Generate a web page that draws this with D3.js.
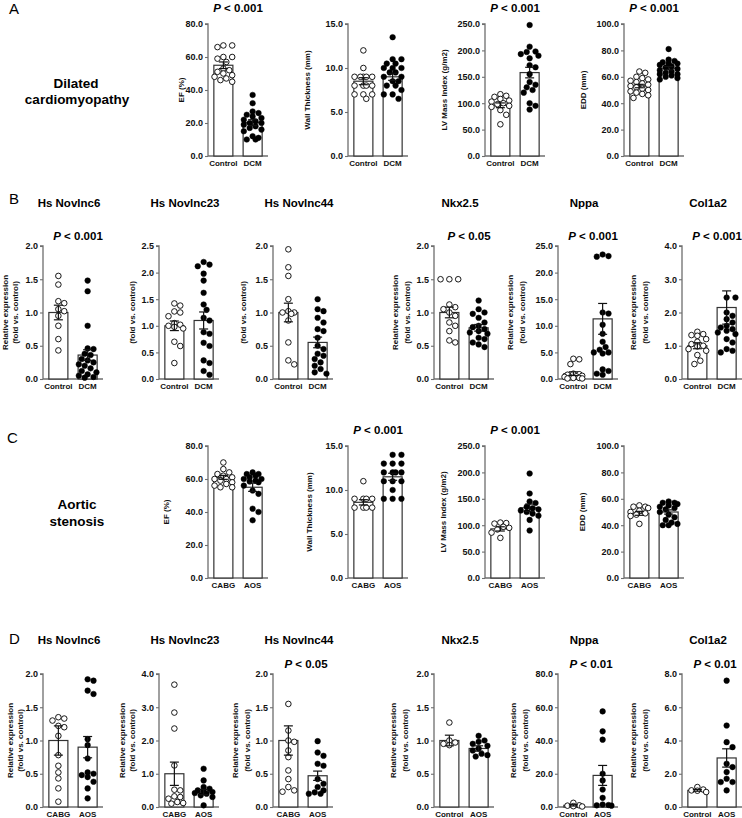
<!DOCTYPE html>
<html><head><meta charset="utf-8">
<script src="https://cdn.jsdelivr.net/npm/d3@7"></script>
<style>
body{margin:0;background:#fff}
svg{display:block}
text{font-family:"Liberation Sans",Arial,Helvetica,sans-serif}
</style>
</head><body>
<svg id="fig" width="742" height="818"></svg>
<script>
// ---------- categories & labels ----------
const groupsDCM = ["Control", "DCM"];
const groupsAS = ["CABG", "AOS"];
const groupsASc = ["Control", "AOS"];
const echoLabels = ["EF (%)", "Wall Thickness (mm)", "LV Mass Index (g/m2)", "EDD (mm)"];
const echoMax = [80, 15, 250, 100];
const echoStep = [20, 5, 50, 20];
const geneTitles = ["Hs Novlnc6", "Hs Novlnc23", "Hs Novlnc44", "Nkx2.5", "Nppa", "Col1a2"];
const geneMaxB = [2, 2.5, 2, 2, 25, 4];
const geneStepB = [0.5, 0.5, 0.5, 0.5, 5, 1];
const geneMaxD = [2, 4, 2, 2, 80, 8];
const geneStepD = [0.5, 1, 0.5, 0.5, 20, 2];
const pRowA = ["< 0.001", null, "< 0.001", "< 0.001"];
const pRowB = ["< 0.001", null, null, "< 0.05", "< 0.001", "< 0.001"];
const pRowC = [null, "< 0.001", "< 0.001", null];
const pRowD = [null, null, "< 0.05", null, "< 0.01", "< 0.01"];

// ---------- Row A: dilated cardiomyopathy (echo) ----------
const efCtrlA = [67,66,67,60,59,60,57,53,52,51,50,49,48,47,46,45];
const efDcmA = [37,32,27,26,25,24,23,22,21,20,20,19,18,17,16,15,12,11,10,10];
const wtCtrlA = [12,10,9,9,9,9,9,8,8,8,8,7,7,7,6.5];
const wtDcmA = [13.5,11,11,10.5,10.5,10,10,10,9.5,9.5,9,9,8.5,8.5,8,8,7.5,7,7,6.5];
const lvCtrlA = [117,114,112,108,105,103,100,98,95,93,87,78,60];
const lvDcmA = [248,207,198,197,193,190,185,172,168,155,140,135,130,125,120,100,95,88];
const eddCtrlA = [64,63,60,59,58,57,56,55,54,53,52,51,50,49,48,47,46,44];
const eddDcmA = [81,73,72,71,70,70,69,68,67,66,65,64,63,62,62,61,60,59,58];
const meanA = [[55, 20.2], [8.5, 9.0], [96, 158], [53, 66.5]];
const semA = [[2, 1.8], [0.4, 0.4], [4.5, 10], [1.3, 1.3]];

// ---------- Row B: DCM gene expression ----------
const n6CtrlB = [1.55,1.42,1.17,1.14,1.05,1.02,0.95,0.80,0.60,0.43];
const n6DcmB = [1.48,1.32,0.80,0.46,0.45,0.38,0.36,0.30,0.28,0.25,0.22,0.20,0.16,0.12,0.10,0.07,0.05,0.03,0.02];
const n23CtrlB = [1.42,1.38,1.27,1.25,1.18,1.05,1.02,1.0,0.98,0.95,0.70,0.62,0.30];
const n23DcmB = [2.2,2.15,2.12,1.98,1.85,1.62,1.4,1.3,1.15,1.1,0.88,0.85,0.68,0.62,0.35,0.3,0.15,0.08];
const n44CtrlB = [1.95,1.68,1.55,1.20,1.02,1.00,1.00,0.98,0.88,0.55,0.28,0.22];
const n44DcmB = [1.2,1.05,1.02,0.92,0.85,0.75,0.72,0.62,0.5,0.45,0.38,0.35,0.3,0.25,0.2,0.15,0.1,0.08];
const nkxCtrlB = [1.5,1.5,1.5,1.12,1.08,1.05,1.0,0.95,0.85,0.80,0.72,0.58,0.55];
const nkxDcmB = [1.18,1.05,1.0,0.98,0.92,0.85,0.80,0.78,0.75,0.72,0.70,0.68,0.62,0.60,0.55,0.52,0.48];
const nppaCtrlB = [3.8,3.7,2.8,1.0,0.9,0.8,0.6,0.5,0.4,0.3,0.2,0.2,0.1,0.1];
const nppaDcmB = [23.4,23.0,23.1,12.5,12.3,10.2,8.5,7.0,6.0,5.5,5.0,5.0,4.8,1.8,1.5,1.0,0.8];
const colCtrlB = [1.42,1.35,1.32,1.3,1.2,1.12,1.05,1.0,0.98,0.9,0.85,0.72,0.55,0.45];
const colDcmB = [2.45,2.45,2.0,1.9,1.8,1.7,1.6,1.55,1.5,1.45,1.4,1.35,1.2,1.1,0.9,0.85,0.8];
const meanB = [[1.0, 0.36], [1.0, 1.1], [1.0, 0.55], [1.0, 0.77], [1.0, 11.3], [1.0, 2.15]];
const semB = [[0.11, 0.08], [0.09, 0.16], [0.14, 0.08], [0.08, 0.05], [0.35, 2.9], [0.09, 0.5]];

// ---------- Row C: aortic stenosis (echo) ----------
const efCabgC = [70,66,64,63,62,61,60,60,59,58,57,56,55,55];
const efAosC = [64,63,63,62,61,60,60,59,58.5,58,56,53,51,42,40,35];
const wtCabgC = [11,9,9,9,9,8,8,8,8];
const wtAosC = [14,14,13,13,13,12,12,12,12,11,11,11,10,9,9,9];
const lvCabgC = [105,104,103,97,95,92,86,76];
const lvAosC = [198,160,145,142,135,132,130,128,125,122,118,110,90];
const eddCabgC = [55,54,54,53,51,50,49,48,47,41];
const eddAosC = [58,57,57,56,55,54,53,52,50,48,46,44,42,41,40,40];
const meanC = [[61, 55], [8.6, 11.5], [93, 133], [49, 50]];
const semC = [[1.2, 2.5], [0.3, 0.4], [4, 7], [1.5, 1.6]];

// ---------- Row D: aortic stenosis gene expression ----------
const n6CabgD = [1.35,1.33,1.30,1.22,1.20,1.07,0.78,0.62,0.52,0.43,0.28,0.08];
const n6AosD = [1.92,1.90,1.75,1.70,1.02,0.93,0.73,0.52,0.50,0.48,0.45,0.38,0.28,0.13];
const n23CabgD = [3.68,2.84,2.36,1.25,0.52,0.5,0.32,0.3,0.25,0.15,0.12,0.1];
const n23AosD = [1.15,0.8,0.6,0.55,0.5,0.48,0.45,0.42,0.4,0.35,0.3,0.05];
const n44CabgD = [1.55,1.15,1.0,0.98,0.85,0.75,0.55,0.42,0.3,0.25,0.23];
const n44AosD = [0.99,0.82,0.77,0.65,0.62,0.42,0.35,0.3,0.25,0.22,0.2,0.2];
const nkxCtrlD = [1.27,1.0,0.97,0.95,0.93];
const nkxAosD = [1.07,1.0,0.98,0.95,0.92,0.88,0.85,0.8,0.78,0.76];
const nppaCtrlD = [2.5,1.0,0.8,0.5,0.3];
const nppaAosD = [57.5,45.5,40.5,20,16,10.5,5.5,1.5,1.2,1.0,0.8];
const colCtrlD = [1.2,1.05,1.0,0.98,0.9];
const colAosD = [7.6,4.9,3.9,3.6,2.6,2.4,2.1,1.7,1.5,1.5,1.0];
const meanD = [[1.0, 0.9], [1.0, 0.45], [1.0, 0.47], [1.0, 0.88], [1.0, 19], [1.0, 2.95]];
const semD = [[0.22, 0.16], [0.35, 0.08], [0.22, 0.07], [0.08, 0.04], [0.4, 6], [0.05, 0.55]];

// ---------- layout ----------
const svg = d3.select("#fig");
const echoAx = [208, 348, 485, 624];
const geneAx = [43, 159, 273, 434, 558, 682];
const plotW = 60;
const labA = [-27, -41, -41, -41];
const labC = [-42, -39, -42, -42];
const labB = [[-38,-28],[null,-27],[null,-30],[-39,-27],[-48,-36],[-49,-37]];
const labD = [[-33,-23],[-37,-27],[-38,-26],[-41,-29],[-45,-33],[-49,-37]];
const fmt = d3.format(".1f");
const R = 2.8;

function swarm(vals, y, cx, maxOff) {
  const pts = vals.map(v => ({ v, y: y(v) })).sort((a, b) => a.y - b.y);
  const placed = [];
  const minD = 2 * R + 0.3;
  const step = R * 1.05;
  const nSteps = Math.floor(maxOff / step);
  for (const p of pts) {
    let best = 0, bestD = -1;
    for (let k = 0; k <= nSteps * 2; k++) {
      const off = (k % 2 === 1 ? 1 : -1) * Math.ceil(k / 2) * step;
      let d = Infinity;
      for (const q of placed) d = Math.min(d, Math.hypot(q.x - (cx + off), q.y - p.y));
      if (d >= minD) { best = off; bestD = d; break; }
      if (d > bestD) { bestD = d; best = off; }
    }
    p.x = cx + best;
    placed.push(p);
  }
  return placed;
}

function panel(o) {
  const g = svg.append("g");
  const y = d3.scaleLinear().domain([0, o.max]).range([o.bottom, o.top]);
  const x = d3.scaleBand().domain(o.cats).range([o.ax, o.ax + plotW]).paddingInner(0.35).paddingOuter(0.2);
  // y axis
  const yAxis = d3.axisLeft(y).tickValues(d3.range(0, o.max + o.step / 2, o.step)).tickFormat(fmt).tickSize(3).tickPadding(2);
  const ga = g.append("g").attr("transform", `translate(${o.ax},0)`).call(yAxis);
  ga.select(".domain").attr("stroke", "#6e6e6e").attr("stroke-width", 1.3).attr("d", `M-3,${o.top}H0V${o.bottom}`);
  ga.selectAll(".tick line").attr("stroke", "#6e6e6e").attr("stroke-width", 1.1);
  ga.selectAll(".tick text").attr("font-size", 9).attr("font-weight", "bold").attr("fill", "#111")
    .attr("font-family", '"Liberation Sans",Arial,sans-serif');
  // x axis
  const xAxis = d3.axisBottom(x).tickSize(0).tickPadding(4);
  const gx = g.append("g").attr("transform", `translate(0,${o.bottom})`).call(xAxis);
  gx.select(".domain").attr("stroke", "#6e6e6e").attr("stroke-width", 1.3).attr("d", `M${o.ax},0H${o.ax + plotW}`);
  gx.selectAll(".tick text").attr("font-size", 8).attr("font-weight", "bold").attr("fill", "#111")
    .attr("font-family", '"Liberation Sans",Arial,sans-serif');
  // bars
  g.selectAll("rect.bar").data(o.cats).join("rect")
    .attr("x", d => x(d)).attr("width", x.bandwidth())
    .attr("y", (d, i) => y(o.mean[i])).attr("height", (d, i) => o.bottom - y(o.mean[i]))
    .attr("fill", "#fff").attr("stroke", "#333").attr("stroke-width", 1.2);
  // points
  o.groups.forEach((vals, i) => {
    const cx = x(o.cats[i]) + x.bandwidth() / 2;
    const pts = swarm(vals, y, cx, x.bandwidth() / 2 + 1.5);
    g.selectAll(null).data(pts).join("circle")
      .attr("cx", d => d.x).attr("cy", d => d.y).attr("r", R)
      .attr("fill", i === 0 ? "#fff" : "#000")
      .attr("stroke", "#000").attr("stroke-width", i === 0 ? 0.9 : 0.5);
  });
  // error bars
  o.cats.forEach((c, i) => {
    const cx = x(c) + x.bandwidth() / 2;
    const y1 = y(o.mean[i] + o.sem[i]), y0 = y(Math.max(0, o.mean[i] - o.sem[i]));
    g.append("line").attr("x1", cx).attr("x2", cx).attr("y1", y1).attr("y2", y0).attr("stroke", "#111").attr("stroke-width", 1.2);
    [y1, y0].forEach(yy => g.append("line").attr("x1", cx - 4.5).attr("x2", cx + 4.5).attr("y1", yy).attr("y2", yy)
      .attr("stroke", "#111").attr("stroke-width", 1.2));
  });
  // y-label(s)
  const mid = (o.top + o.bottom) / 2;
  o.ylab.forEach((t, k) => {
    if (t == null || o.ylabX[k] == null) return;
    g.append("text").attr("transform", `translate(${o.ax + o.ylabX[k]},${mid}) rotate(-90)`)
      .attr("text-anchor", "middle").attr("dy", "0.35em")
      .attr("font-size", 8).attr("font-weight", "bold").attr("fill", "#111").text(t);
  });
  // P value
  if (o.p) {
    const t = g.append("text").attr("x", o.ax + o.pOff).attr("y", o.pY).attr("text-anchor", "middle")
      .attr("font-size", 11.5).attr("font-weight", "bold").attr("fill", "#000");
    t.append("tspan").attr("font-style", "italic").text("P");
    t.append("tspan").text(" " + o.p);
  }
  // title
  if (o.title) {
    g.append("text").attr("x", o.ax + 26).attr("y", o.titleY).attr("text-anchor", "middle")
      .attr("font-size", 11.5).attr("font-weight", "bold").attr("fill", "#000").text(o.title);
  }
}

// Row A
const groupsA = [[efCtrlA, efDcmA], [wtCtrlA, wtDcmA], [lvCtrlA, lvDcmA], [eddCtrlA, eddDcmA]];
echoAx.forEach((ax, i) => panel({
  ax, top: 24, bottom: 156, max: echoMax[i], step: echoStep[i], cats: groupsDCM,
  groups: groupsA[i], mean: meanA[i], sem: semA[i], ylab: [echoLabels[i]], ylabX: [labA[i]],
  p: pRowA[i], pY: 12, pOff: 30
}));
// Row B
const groupsB = [[n6CtrlB, n6DcmB], [n23CtrlB, n23DcmB], [n44CtrlB, n44DcmB], [nkxCtrlB, nkxDcmB], [nppaCtrlB, nppaDcmB], [colCtrlB, colDcmB]];
geneAx.forEach((ax, i) => panel({
  ax, top: 246, bottom: 379, max: geneMaxB[i], step: geneStepB[i], cats: groupsDCM,
  groups: groupsB[i], mean: meanB[i], sem: semB[i],
  ylab: ["Relative expression", "(fold vs.  control)"], ylabX: labB[i],
  p: pRowB[i], pY: 240, pOff: 35, title: geneTitles[i], titleY: 207
}));
// Row C
const groupsC = [[efCabgC, efAosC], [wtCabgC, wtAosC], [lvCabgC, lvAosC], [eddCabgC, eddAosC]];
echoAx.forEach((ax, i) => panel({
  ax, top: 446, bottom: 578, max: echoMax[i], step: echoStep[i], cats: groupsAS,
  groups: groupsC[i], mean: meanC[i], sem: semC[i], ylab: [echoLabels[i]], ylabX: [labC[i]],
  p: pRowC[i], pY: 434, pOff: 30
}));
// Row D
const groupsD = [[n6CabgD, n6AosD], [n23CabgD, n23AosD], [n44CabgD, n44AosD], [nkxCtrlD, nkxAosD], [nppaCtrlD, nppaAosD], [colCtrlD, colAosD]];
geneAx.forEach((ax, i) => panel({
  ax, top: 674, bottom: 807, max: geneMaxD[i], step: geneStepD[i], cats: i < 3 ? groupsAS : groupsASc,
  groups: groupsD[i], mean: meanD[i], sem: semD[i],
  ylab: ["Relative expression", "(fold vs.  control)"], ylabX: labD[i],
  p: pRowD[i], pY: 668, pOff: 33, title: geneTitles[i], titleY: 644
}));

// Panel letters & row titles
const letters = [["A", 9, 14], ["B", 9, 204], ["C", 7, 443], ["D", 9, 644]];
letters.forEach(([t, x, y]) => svg.append("text").attr("x", x).attr("y", y)
  .attr("font-size", 15).attr("fill", "#000").text(t));
const rowTitles = [["Dilated", 76, 88], ["cardiomyopathy", 77, 104], ["Aortic", 77, 509], ["stenosis", 77, 526]];
rowTitles.forEach(([t, x, y]) => svg.append("text").attr("x", x).attr("y", y).attr("text-anchor", "middle")
  .attr("font-size", 13.5).attr("font-weight", "bold").attr("fill", "#000").text(t));
</script>
</body></html>
